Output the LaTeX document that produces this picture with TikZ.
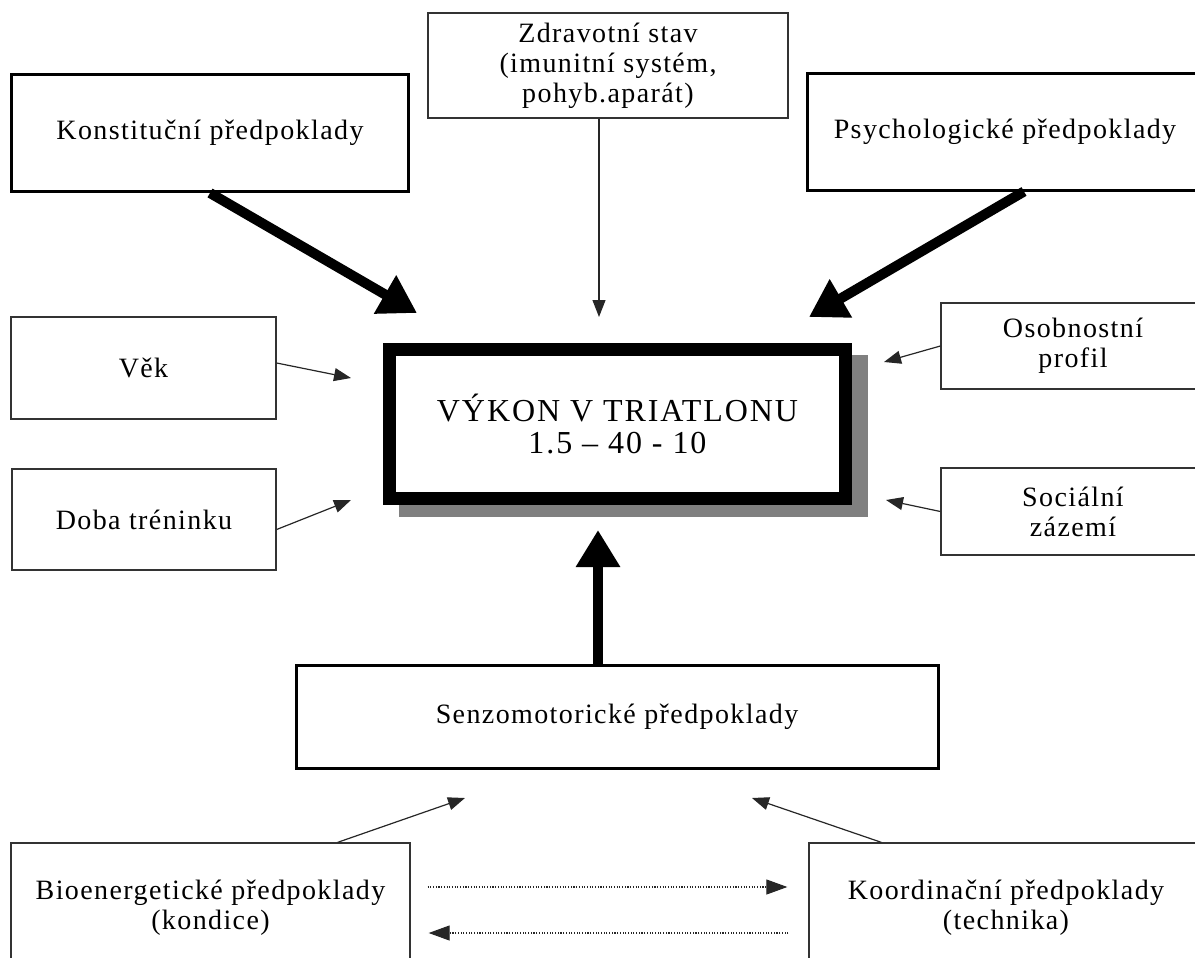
\documentclass[tikz,border=0pt]{standalone}
\usepackage{fontspec}
\setmainfont{Liberation Serif}
\newfontfamily\boxfont[LetterSpace=5]{Liberation Serif}
\newfontfamily\vykonfont[LetterSpace=6]{Liberation Serif}
\usetikzlibrary{calc, arrows.meta, positioning, backgrounds}
\tikzset{
    box/.style={draw=black!80, line width=1.3pt, fill=white, align=center, inner sep=0pt,
        font={\boxfont\fontsize{28pt}{30pt}\selectfont}},
    boxthick/.style={box, draw=black, line width=3pt},
    thinarrow/.style={draw=black!85, line width=1.2pt, -{Triangle[length=17pt,width=13pt]}},
    thickarrow/.style={draw=black, line width=10pt, -{Triangle[length=37pt,width=42pt]}},
    dotarrow/.style={draw=black!85, line width=1.1pt, dash pattern=on 1.1pt off 1.6pt,
        -{Triangle[length=21pt,width=15pt]}}
}
\begin{document}
\begin{tikzpicture}[x=1pt, y=-1pt]
    \useasboundingbox (0,0) rectangle (1195,958);
    \node[boxthick, minimum width=397pt, minimum height=117pt] (nKonst) at (210,133) {Konstituční předpoklady};
    \node[box, minimum width=360pt, minimum height=105pt] (nZdrav) at (608,65.5)
        {Zdravotní stav\\(imunitní systém,\\pohyb.aparát)};
    \node[boxthick, minimum width=396pt, minimum height=116pt] (nPsych) at (1005,132) {Psychologické předpoklady};
    \node[box, minimum width=265pt, minimum height=102pt] (nVek) at (143.5,368) {Věk};
    \node[box, minimum width=264pt, minimum height=101pt] (nDoba) at (144,519.5) {Doba tréninku};
    \node[box, minimum width=264pt, minimum height=86pt] (nOsob) at (1073,346) {Osobnostní\\profil};
    \node[box, minimum width=264pt, minimum height=87pt] (nSoc) at (1073,511.5) {Sociální\\zázemí};
    \node[boxthick, minimum width=642pt, minimum height=103pt] (nSenz) at (617,716.5) {Senzomotorické předpoklady};
    \node[box, minimum width=399pt, minimum height=130pt] (nBio) at (210.5,908)
        {Bioenergetické předpoklady\\(kondice)};
    \node[box, minimum width=394pt, minimum height=130pt] (nKoord) at (1006,908)
        {Koordinační předpoklady\\(technika)};
    \node[draw=black, line width=13pt, fill=white, minimum width=456pt, minimum height=149pt, inner sep=0pt,
        align=center, font={\vykonfont\fontsize{32pt}{32pt}\selectfont}] (nVykon) at (617.5,424)
        {VÝKON V TRIATLONU\\1.5 – 40 - 10};
    \begin{scope}[on background layer]
        \fill[black!50] ($(nVykon.north west)+(16,12)$) rectangle ($(nVykon.south east)+(16,12)$);
    \end{scope}

    \coordinate (cKonstTip) at (417,313);
    \coordinate (cZdravTip) at (599,317);
    \coordinate (cPsychTip) at (809,317);
    \coordinate (cVekTip) at (351,378);
    \coordinate (cDobaTip) at (351,500);
    \coordinate (cOsobTip) at (884,362);
    \coordinate (cSocTip) at (886,500);
    \coordinate (cSenzTip) at (598,530);
    \coordinate (cBioTip) at (465,798);
    \coordinate (cKoordTip) at (752,798);

    \draw[thickarrow] (nKonst.south) -- (cKonstTip);
    \draw[thickarrow] ($(nPsych.south)+(19,0)$) -- (cPsychTip);
    \draw[thickarrow] (nSenz.north -| cSenzTip) -- (cSenzTip);
    \draw[thinarrow] (nZdrav.south -| cZdravTip) -- (cZdravTip);
    \draw[thinarrow] ($(nVek.east)+(0,-5)$) -- (cVekTip);
    \draw[thinarrow] ($(nDoba.east)+(0,10)$) -- (cDobaTip);
    \draw[thinarrow] (nOsob.west) -- (cOsobTip);
    \draw[thinarrow] (nSoc.west) -- (cSocTip);
    \draw[thinarrow] ($(nBio.north east)+(-73,0)$) -- (cBioTip);
    \draw[thinarrow] ($(nKoord.north west)+(73,0)$) -- (cKoordTip);
    \draw[dotarrow] ($(nBio.east)+(17,-21)$) -- ($(nKoord.west)+(-21,-21)$);
    \draw[dotarrow] ($(nKoord.west)+(-20,25)$) -- ($(nBio.east)+(18,25)$);
\end{tikzpicture}
\end{document}
